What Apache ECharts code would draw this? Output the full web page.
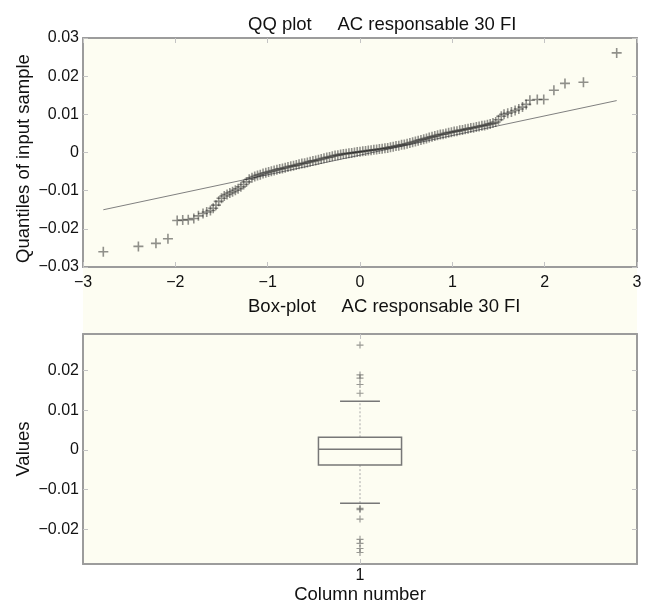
<!DOCTYPE html>
<html>
<head>
<meta charset="utf-8">
<script src="https://cdn.jsdelivr.net/npm/echarts@6/dist/echarts.min.js"></script>
<style>html,body{margin:0;padding:0;background:#fff;}#c{width:646px;height:601px;}</style>
</head>
<body>
<div id="c"></div>
<script>
// ---- QQ plot data (theoretical quantile, sample quantile) ----
var qqX = [-2.78,-2.40,-2.21,-2.08,-1.98,-1.92,-1.86,-1.80,-1.75,-1.70,-1.66,-1.62,-1.59,-1.56,-1.53,-1.50,-1.47,-1.44,-1.41,-1.38,-1.35,-1.32,-1.29,-1.26,-1.23,-1.20,-1.17,-1.14,-1.11,-1.08,-1.05,-1.02,-0.99,-0.96,-0.93,-0.90,-0.87,-0.84,-0.81,-0.78,-0.75,-0.72,-0.69,-0.66,-0.63,-0.60,-0.57,-0.54,-0.51,-0.48,-0.45,-0.42,-0.39,-0.36,-0.33,-0.30,-0.27,-0.24,-0.21,-0.18,-0.15,-0.12,-0.09,-0.06,-0.03,0.00,0.03,0.06,0.09,0.12,0.15,0.18,0.21,0.24,0.27,0.30,0.33,0.36,0.39,0.42,0.45,0.48,0.51,0.54,0.57,0.60,0.63,0.66,0.69,0.72,0.75,0.78,0.81,0.84,0.87,0.90,0.93,0.96,0.99,1.02,1.05,1.08,1.11,1.14,1.17,1.20,1.23,1.26,1.29,1.32,1.35,1.38,1.41,1.44,1.47,1.50,1.53,1.56,1.60,1.64,1.68,1.72,1.76,1.80,1.84,1.92,1.99,2.10,2.22,2.42,2.78];
var qqY = [-0.0260,-0.0246,-0.0238,-0.0226,-0.0178,-0.0177,-0.0176,-0.0173,-0.0166,-0.0160,-0.0156,-0.0152,-0.0146,-0.0138,-0.0128,-0.0120,-0.0114,-0.0110,-0.0106,-0.0103,-0.0099,-0.0095,-0.0090,-0.0084,-0.0077,-0.0070,-0.0066,-0.0063,-0.0060,-0.0058,-0.0055,-0.0053,-0.0051,-0.0049,-0.0047,-0.0045,-0.0043,-0.0042,-0.0040,-0.0038,-0.0036,-0.0035,-0.0033,-0.0031,-0.0029,-0.0028,-0.0026,-0.0024,-0.0022,-0.0021,-0.0019,-0.0017,-0.0015,-0.0013,-0.0012,-0.0010,-0.0008,-0.0007,-0.0005,-0.0004,-0.0003,-0.0002,-0.0001,0.0000,0.0001,0.0002,0.0003,0.0004,0.0005,0.0006,0.0007,0.0008,0.0009,0.0010,0.0011,0.0012,0.0014,0.0015,0.0017,0.0018,0.0020,0.0021,0.0023,0.0025,0.0027,0.0029,0.0031,0.0033,0.0035,0.0037,0.0039,0.0041,0.0043,0.0045,0.0047,0.0048,0.0050,0.0052,0.0053,0.0055,0.0056,0.0058,0.0059,0.0061,0.0062,0.0064,0.0065,0.0067,0.0068,0.0070,0.0071,0.0073,0.0075,0.0077,0.0080,0.0086,0.0095,0.0100,0.0103,0.0106,0.0110,0.0114,0.0119,0.0126,0.0137,0.0139,0.0139,0.0163,0.0181,0.0184,0.0261];
// reference line end points
var refLineX = [-2.78, 2.78];
var refLineY = [-0.0150, 0.0136];
// tick labels
var qqXTicks = [-3,-2,-1,0,1,2,3];
var qqYTicks = [-0.03,-0.02,-0.01,0,0.01,0.02,0.03];
// ---- Box plot data ----
var boxCategories = ['1'];
var boxStats = [-0.0134, -0.0038, 0.0002, 0.0032, 0.0123]; // lower whisker, Q1, median, Q3, upper whisker
var boxOutliers = [0.0264, 0.0189, 0.0181, 0.0165, 0.0143, -0.0147, -0.0150, -0.0174, -0.0225, -0.0235, -0.0248, -0.0258];
var boxYTicks = [-0.02,-0.01,0,0.01,0.02];

var FONT = 'Liberation Sans';
var plusPath = 'path://M-1,-0.16L-0.16,-0.16L-0.16,-1L0.16,-1L0.16,-0.16L1,-0.16L1,0.16L0.16,0.16L0.16,1L-0.16,1L-0.16,0.16L-1,0.16Z';
function fmt(v){
  var s = Math.abs(v) < 1e-9 ? '0' : String(parseFloat(v.toFixed(4)));
  return s.replace('-', '\u2212');
}
var borderLine = {show:true, onZero:false, lineStyle:{color:'#9c9c9c', width:2}};
var innerTick = {show:true, inside:true, length:5, lineStyle:{color:'#c4c4c4', width:1}};
var lbl = {color:'#111', fontSize:16, fontFamily:FONT};
var nameStyle = {color:'#111', fontSize:18.5, fontFamily:FONT};

var qqPoints = qqX.map(function(x,i){return [x, qqY[i]];});
var linePoints = refLineX.map(function(x,i){return [x, refLineY[i]];});
var outlierPoints = boxOutliers.map(function(v){return ['1', v];});

var chart = echarts.init(document.getElementById('c'), null, {renderer:'canvas'});
chart.setOption({
  backgroundColor:'#ffffff',
  animation:false,
  graphic:[{type:'rect', silent:true, z:-10, shape:{x:83,y:38,width:554,height:526}, style:{fill:'#fdfdf2'}}],
  title:[
    {text:'QQ plot     AC responsable 30 FI', left:243, top:10,
     textStyle:{fontSize:18.5, fontWeight:'normal', fontFamily:FONT, color:'#111'}},
    {text:'Box-plot     AC responsable 30 FI', left:243, top:292,
     textStyle:{fontSize:18.5, fontWeight:'normal', fontFamily:FONT, color:'#111'}}
  ],
  grid:[
    {left:83, top:38, width:554, height:229, backgroundColor:'#fdfdf2', show:true, borderWidth:0, outerBoundsMode:'none', containLabel:false},
    {left:83, top:334, width:554, height:230, backgroundColor:'#fdfdf2', show:true, borderWidth:0, outerBoundsMode:'none', containLabel:false}
  ],
  xAxis:[
    {gridIndex:0, type:'value', min:-3, max:3, interval:1, position:'bottom',
     axisLine:borderLine, axisTick:innerTick, splitLine:{show:false},
     axisLabel:Object.assign({margin:8, formatter:function(v){return fmt(v);}}, lbl)},
    {gridIndex:0, type:'value', min:-3, max:3, interval:1, position:'top',
     axisLine:borderLine, axisTick:innerTick, splitLine:{show:false}, axisLabel:{show:false}},
    {gridIndex:1, type:'category', data:boxCategories, position:'bottom',
     name:'Column number', nameLocation:'middle', nameGap:21, nameTextStyle:nameStyle, nameMoveOverlap:false,
     axisLine:borderLine, axisTick:Object.assign({alignWithLabel:true}, innerTick),
     axisLabel:Object.assign({margin:4}, lbl)},
    {gridIndex:1, type:'category', data:boxCategories, position:'top',
     axisLine:borderLine, axisTick:Object.assign({alignWithLabel:true}, innerTick), axisLabel:{show:false}}
  ],
  yAxis:[
    {gridIndex:0, type:'value', min:-0.03, max:0.03, interval:0.01, position:'left',
     name:'Quantiles of input sample', nameLocation:'middle', nameGap:50, nameMoveOverlap:false,
     nameTextStyle:Object.assign({padding:[0,12,0,0]}, nameStyle),
     axisLine:borderLine, axisTick:innerTick, splitLine:{show:false},
     axisLabel:Object.assign({margin:4, formatter:function(v){return fmt(v);}}, lbl)},
    {gridIndex:0, type:'value', min:-0.03, max:0.03, interval:0.01, position:'right',
     axisLine:borderLine, axisTick:innerTick, splitLine:{show:false}, axisLabel:{show:false}},
    {gridIndex:1, type:'value', min:-0.0287, max:0.0292, position:'left',
     name:'Values', nameLocation:'middle', nameGap:50, nameTextStyle:nameStyle, nameMoveOverlap:false,
     axisLine:borderLine, axisTick:Object.assign({customValues:boxYTicks}, innerTick), splitLine:{show:false},
     axisLabel:Object.assign({margin:4, customValues:boxYTicks, formatter:function(v){return fmt(v);}}, lbl)},
    {gridIndex:1, type:'value', min:-0.0287, max:0.0292, position:'right',
     axisLine:borderLine, axisTick:Object.assign({customValues:boxYTicks}, innerTick), splitLine:{show:false}, axisLabel:{show:false}}
  ],
  series:[
    {type:'line', xAxisIndex:0, yAxisIndex:0, data:linePoints, symbol:'none',
     lineStyle:{color:'#808080', width:1}, z:2},
    {type:'scatter', xAxisIndex:0, yAxisIndex:0, data:qqPoints, symbol:plusPath, symbolSize:10,
     itemStyle:{color:'rgba(25,25,25,0.6)'}, z:3},
    {type:'custom', xAxisIndex:2, yAxisIndex:2, data:[[0].concat(boxStats)],
     renderItem:function(params, api){
       var band = api.size([1,0])[0];
       var cx = api.coord([api.value(0), 0])[0];
       var yLw = api.coord([0, api.value(1)])[1];
       var yQ1 = api.coord([0, api.value(2)])[1];
       var yMed = api.coord([0, api.value(3)])[1];
       var yQ3 = api.coord([0, api.value(4)])[1];
       var yUw = api.coord([0, api.value(5)])[1];
       var hw = band*0.075, cw = band*0.036;
       var st = {stroke:'#777', lineWidth:1.5, fill:null};
       var dash = {stroke:'#aaa', lineWidth:1, lineDash:[2,2]};
       return {type:'group', children:[
         {type:'line', shape:{x1:cx,y1:yQ3,x2:cx,y2:yUw}, style:dash},
         {type:'line', shape:{x1:cx,y1:yQ1,x2:cx,y2:yLw}, style:dash},
         {type:'line', shape:{x1:cx-cw,y1:yUw,x2:cx+cw,y2:yUw}, style:st},
         {type:'line', shape:{x1:cx-cw,y1:yLw,x2:cx+cw,y2:yLw}, style:st},
         {type:'rect', shape:{x:cx-hw,y:yQ3,width:2*hw,height:yQ1-yQ3}, style:{stroke:'#777', lineWidth:1.5, fill:'#fdfdf2'}},
         {type:'line', shape:{x1:cx-hw,y1:yMed,x2:cx+hw,y2:yMed}, style:st}
       ]};
     }, z:3},
    {type:'scatter', xAxisIndex:2, yAxisIndex:2, data:outlierPoints, symbol:plusPath, symbolSize:7,
     itemStyle:{color:'rgba(60,60,60,0.65)'}, z:4}
  ]
});
</script>
</body>
</html>
